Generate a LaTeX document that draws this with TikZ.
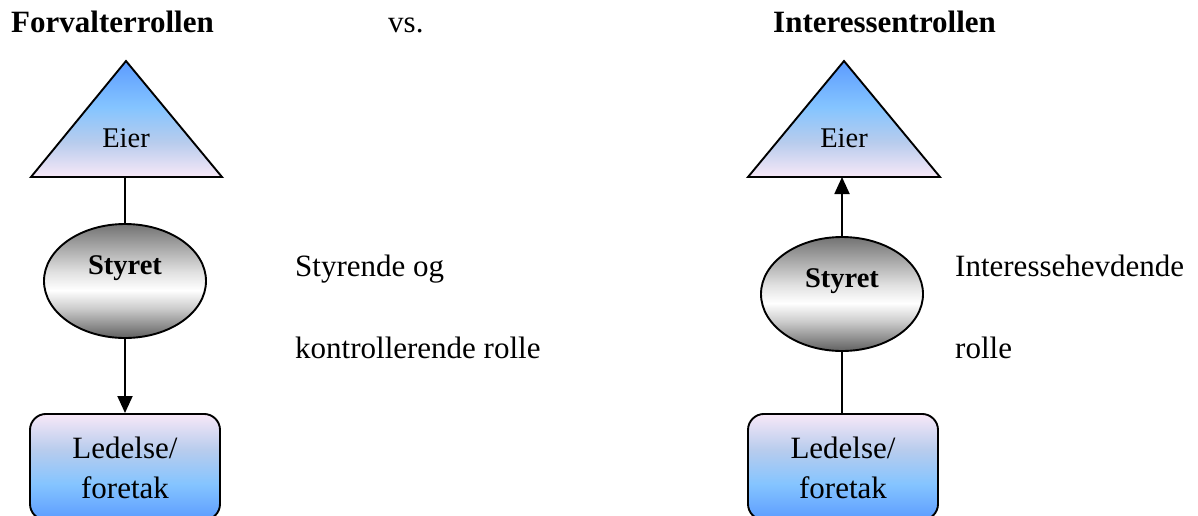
\documentclass[tikz,border=0pt]{standalone}
\usepackage{fontspec}
\setmainfont{Liberation Serif}
\usetikzlibrary{arrows.meta,shapes.geometric}
\definecolor{topblue}{rgb}{0.36,0.61,1}
\definecolor{midblue}{rgb}{0.52,0.77,1}
\definecolor{lavblue}{rgb}{0.72,0.80,0.93}
\definecolor{palepink}{rgb}{0.97,0.91,0.97}
\pgfdeclareverticalshading{eiershade}{100bp}{color(0bp)=(palepink); color(25bp)=(palepink); color(40bp)=(lavblue); color(55bp)=(midblue); color(75bp)=(topblue); color(100bp)=(topblue)}
\pgfdeclareverticalshading{ledshade}{100bp}{color(0bp)=(topblue); color(25bp)=(topblue); color(42bp)=(midblue); color(58bp)=(lavblue); color(75bp)=(palepink); color(100bp)=(palepink)}
\pgfdeclareverticalshading{styshade}{100bp}{color(0bp)=(black!62); color(25bp)=(black!62); color(38bp)=(black!20); color(46bp)=(white); color(54bp)=(black!12); color(75bp)=(black!55); color(100bp)=(black!55)}
\tikzset{
  outline/.style={draw=black, line width=1.9pt},
  eiertri/.style={outline, shading=eiershade, line join=miter},
  stelli/.style={outline, shape=ellipse, shading=styshade, minimum width=162pt, minimum height=114pt, inner sep=0pt},
  ledbox/.style={outline, shape=rectangle, rounded corners=16pt, shading=ledshade, minimum width=190pt, minimum height=106pt, inner sep=0pt, anchor=north},
  maintext/.style={inner sep=0pt, anchor=base west, font=\fontsize{31}{40}\selectfont},
  titletext/.style={maintext, font=\fontsize{31}{40}\selectfont\bfseries},
  boxtext/.style={inner sep=0pt, anchor=base, font=\fontsize{31}{40}\selectfont},
  smalltext/.style={inner sep=0pt, anchor=base, font=\fontsize{28.5}{34}\selectfont},
  boldsmall/.style={smalltext, font=\fontsize{28.5}{34}\selectfont\bfseries},
  conn/.style={line width=1.9pt},
  arr/.style={conn, -{Triangle[length=17pt,width=15pt]}}
}
\begin{document}
\begin{tikzpicture}[x=1pt,y=-1pt]
\useasboundingbox (0,0) rectangle (1198,515);
\clip (0,0) rectangle (1198,515);
% titles
\node[titletext] (t1) at (11,32) {Forvalterrollen};
\node[maintext] (vs) at (388,32) {vs.};
\node[titletext] (t2) at (773,32) {Interessentrollen};
% ---------- left ----------
\path[eiertri] (126,61) -- (222,177) -- (31,177) -- cycle;
\coordinate (eierLb) at (125,177);
\node[smalltext] (eierL) at (126,147) {Eier};
\node[stelli] (styL) at (125,281) {};
\node[boldsmall] (styLt) at (125,274) {Styret};
\node[ledbox] (ledL) at (125,413) {};
\node[boxtext] (ledL1) at (125,458) {Ledelse/};
\node[boxtext] (ledL2) at (125,498) {foretak};
\draw[conn] (eierLb) -- (styL.north);
\draw[arr] (styL.south) -- (ledL.north);
\node[maintext] (sL1) at (295,276) {Styrende og};
\node[maintext] (sL2) at (295,358) {kontrollerende rolle};
% ---------- right ----------
\path[eiertri] (844,61) -- (940,177) -- (748,177) -- cycle;
\coordinate (eierRb) at (842,177);
\node[smalltext] (eierR) at (844,147) {Eier};
\node[stelli] (styR) at (842,294) {};
\node[boldsmall] (styRt) at (842,287) {Styret};
\node[ledbox] (ledR) at (843,413) {};
\node[boxtext] (ledR1) at (843,458) {Ledelse/};
\node[boxtext] (ledR2) at (843,498) {foretak};
\draw[arr] (styR.north) -- (eierRb);
\draw[conn] (ledR.north -| styR.south) -- (styR.south);
\node[maintext] (sR1) at (955,276) {Interessehevdende};
\node[maintext] (sR2) at (955,358) {rolle};
\end{tikzpicture}
\end{document}
